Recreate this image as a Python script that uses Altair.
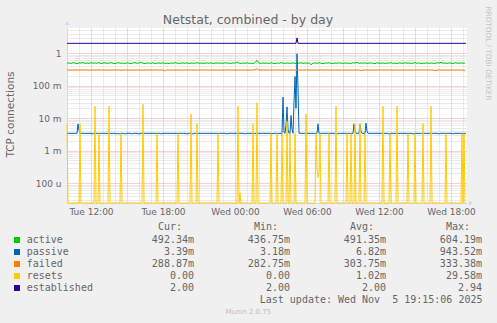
import altair as alt
import pandas as pd

TITLE = "Netstat, combined - by day"
Y_TITLE = "TCP connections"
RRD_CREDIT = "RRDTOOL / TOBI OETIKER"
MUNIN_VERSION = "Munin 2.0.75"
LAST_UPDATE = "Last update: Wed Nov  5 19:15:06 2025"

series_names = ["active", "passive", "failed", "resets", "established"]
series_colors = ["#00CC00", "#0066B3", "#FF8000", "#FFCC00", "#330099"]
col_headers = ["Cur:", "Min:", "Avg:", "Max:"]
cur_vals = ["492.34m", "3.39m", "288.87m", "0.00", "2.00"]
min_vals = ["436.75m", "3.18m", "282.75m", "0.00", "2.00"]
avg_vals = ["491.35m", "6.82m", "303.75m", "1.02m", "2.00"]
max_vals = ["604.19m", "943.52m", "333.38m", "29.58m", "2.94"]

# active / failed: 10-minute samples from Tue 10:00, in milli-connections
active_milli = [
    488, 502, 479, 510, 495, 470, 505, 492, 515, 483,
    497, 478, 508, 490, 500, 486, 520, 475, 496, 504,
    482, 493, 511, 488, 476, 499, 506, 485, 494, 480,
    503, 491, 477, 498, 512, 487, 495, 530, 489, 472,
    501, 494, 483, 509, 478, 492, 497, 486, 505, 481,
    490, 476, 499, 488, 507, 495, 482, 493, 500, 487,
    504, 479, 496, 491, 485, 510, 488, 497, 483, 492,
    499, 486, 505, 478, 494, 501, 489, 496, 484, 508,
    490, 497, 482, 503, 488, 535, 493, 480, 498, 487,
    502, 485, 494, 479, 510, 604, 491, 484, 499, 488,
    496, 481, 505, 490, 477, 498, 487, 509, 493, 482,
    500, 491, 486, 503, 478, 495, 489, 506, 484, 497,
    488, 502, 437, 494, 499, 483, 510, 490, 476, 498,
    492, 505, 486, 480, 497, 489, 503, 494, 481, 500,
    487, 496, 478, 509, 493, 525, 485, 499, 490, 504,
    483, 495, 501, 488, 474, 506, 492, 486, 498, 480,
    497, 490, 508, 484, 495, 479, 502, 491, 487, 505,
    489, 498, 482, 494, 511, 486, 500, 477, 493, 488,
    503, 485, 496, 490, 481, 507, 494, 520, 489, 498,
    484, 501, 492, 478, 506, 495, 487, 499, 492, 492.34,
]
failed_milli = [
    302, 305, 299, 304, 301, 307, 298, 303, 306, 300,
    304, 299, 302, 306, 301, 303, 310, 298, 305, 302,
    300, 304, 299, 303, 307, 301, 305, 298, 302, 306,
    303, 300, 305, 299, 304, 302, 306, 301, 298, 304,
    301, 305, 302, 299, 303, 307, 300, 304, 301, 283,
    305, 302, 299, 304, 301, 306, 300, 303, 298, 305,
    302, 300, 304, 301, 306, 299, 303, 305, 300, 302,
    304, 298, 302, 306, 301, 303, 299, 305, 302, 300,
    303, 306, 300, 302, 305, 299, 304, 301, 303, 298,
    302, 305, 300, 304, 306, 333, 301, 303, 299, 302,
    305, 300, 303, 298, 304, 302, 306, 299, 303, 301,
    304, 299, 302, 306, 300, 303, 305, 298, 302, 304,
    301, 305, 300, 303, 299, 304, 302, 306, 300, 303,
    305, 299, 302, 304, 301, 306, 300, 303, 298, 302,
    304, 301, 303, 299, 305, 302, 300, 288, 303, 301,
    306, 300, 304, 302, 299, 303, 305, 301, 302, 304,
    300, 303, 305, 299, 302, 306, 301, 304, 300, 303,
    302, 305, 299, 304, 301, 303, 306, 300, 302, 305,
    301, 304, 300, 303, 286, 302, 305, 299, 304, 301,
    303, 300, 305, 302, 298, 304, 301, 303, 299, 288.87,
]

# passive / resets / established: 5-minute samples, flat level plus listed samples
passive_level = 0.00339
passive_idx = [11, 12, 25, 49, 52, 58, 65, 72, 94, 120, 126, 160, 178, 205,
               216, 217, 219, 220, 221, 224, 225, 227, 228, 229, 230, 231,
               251, 270, 287, 288, 293, 294, 299, 300, 322, 346, 372, 386]
passive_val = [0.0066, 0.0042, 0.0032, 0.0032, 0.0032, 0.0032, 0.0032, 0.0032, 0.0032,
               0.0032, 0.0032, 0.0032, 0.0032, 0.0033,
               0.044, 0.0036, 0.006, 0.022, 0.0045, 0.012, 0.0045, 0.03, 0.19, 0.02,
               0.9435, 0.08,
               0.0066, 0.0032, 0.0066, 0.0042, 0.0066, 0.0040, 0.0070, 0.0040,
               0.0032, 0.0032, 0.0032, 0.0032]

resets_level = 0.0
resets_idx = [0, 13, 28, 32, 42, 54, 76, 90, 111, 124, 130, 151, 171, 173, 186, 190,
              204, 210, 215, 220, 223, 228, 239, 249, 250, 251, 252, 253, 262, 269,
              280, 284, 288, 293, 298, 316, 323, 330, 341, 348, 356, 364, 379,
              395, 397]
resets_val = [0.00667, 0.00667, 0.0233, 0.00333, 0.0233, 0.00333, 0.0267, 0.00333,
              0.00333, 0.0133, 0.00667, 0.00333, 0.0233, 0.00005, 0.00667, 0.02958,
              0.00333, 0.00333, 0.00333, 0.008, 0.00333, 0.00333, 0.0133, 0.00333,
              0.0003, 0.00015, 0.0002, 0.00333, 0.00333, 0.0233,
              0.00333, 0.00333, 0.00667, 0.00667, 0.00333, 0.0233, 0.00333, 0.0233,
              0.00333, 0.00333, 0.00667, 0.0233, 0.00333,
              0.00333, 0.00333]

established_level = 2.0
established_idx = [230]
established_val = [2.94]

# ---------------------------------------------------------------- tables
t10 = pd.date_range("2025-11-04 10:00", periods=len(active_milli), freq="10min")
t5 = pd.date_range("2025-11-04 10:00", periods=400, freq="5min")

FLOOR = 1e-9  # zero on a log axis -> pinned to the bottom edge


def sparse_series(level, idx, val):
    vals = [level] * len(t5)
    for i, v in zip(idx, val):
        vals[i] = v
    return [v if v > 0 else FLOOR for v in vals]


frames = {
    "active": pd.DataFrame({"t": t10, "v": [a / 1000 for a in active_milli]}),
    "passive": pd.DataFrame({"t": t5, "v": sparse_series(passive_level, passive_idx, passive_val)}),
    "failed": pd.DataFrame({"t": t10, "v": [f / 1000 for f in failed_milli]}),
    "resets": pd.DataFrame({"t": t5, "v": sparse_series(resets_level, resets_idx, resets_val)}),
    "established": pd.DataFrame({"t": t5, "v": sparse_series(established_level, established_idx, established_val)}),
}

NB = "\u00a0"


def unit_pad(s):
    return s if s.endswith("m") else s + NB


# ---------------------------------------------------------------- styling
FONT = "DejaVu Sans"
MONO = "DejaVu Sans Mono"
TXT = "#666666"
AXIS_C = "#CFD6F8"
MINOR = "#D6D6D6"
MAJOR = "#FFA0A0"

# hourly grid positions (Tue 10:00 .. Wed 19:00)
x_ticks = ([alt.DateTime(year=2025, month=11, date=4, hours=h) for h in range(10, 24)] +
           [alt.DateTime(year=2025, month=11, date=5, hours=h) for h in range(0, 20)])
y_ticks = [m * 10 ** e for e in range(-5, 1) for m in range(1, 10)]
y_ticks = [v for v in y_ticks if 2.43e-5 <= v <= 5.93]

x_axis = alt.Axis(
    title=None,
    values=x_ticks,
    labelExpr="hours(datum.value) % 6 == 0 ? timeFormat(datum.value, '%a %H:%M') : ''",
    gridColor={"condition": {"test": "hours(datum.value) % 3 == 0", "value": MAJOR}, "value": MINOR},
    gridDash=[1, 1], gridOpacity=1, gridWidth=1,
    domainColor=AXIS_C, ticks=False, labelPadding=4,
    labelFlush=False, labelOverlap=False, labelBound=False,
    labelColor=TXT, labelFont=FONT, labelFontSize=9,
)

y_axis = alt.Axis(
    values=y_ticks,
    labelExpr=("datum.value == 1 ? '1\u00a0\u00a0' : datum.value == 0.1 ? '100 m' : "
               "datum.value == 0.01 ? '10 m' : datum.value == 0.001 ? '1 m' : "
               "datum.value == 0.0001 ? '100 u' : ''"),
    gridColor={"condition": {"test": "abs(log(datum.value)/LN10 - round(log(datum.value)/LN10)) < 0.001",
                             "value": MAJOR}, "value": MINOR},
    gridDash=[1, 1], gridOpacity=1, gridWidth=1,
    domainColor=AXIS_C, ticks=False, labelPadding=6, labelOverlap=False,
    labelColor=TXT, labelFont=FONT, labelFontSize=9,
    title=Y_TITLE, titleFont=FONT, titleFontSize=10.5, titleFontWeight="normal",
    titleColor=TXT, titleX=-57, titleY=86, titleAngle=270,
    titleAlign="center", titleBaseline="middle",
)

x_enc = alt.X("t:T", axis=x_axis,
              scale=alt.Scale(domain=[alt.DateTime(year=2025, month=11, date=4, hours=10),
                                      alt.DateTime(year=2025, month=11, date=5, hours=19, minutes=20)]))
y_enc = alt.Y("v:Q", axis=y_axis,
              scale=alt.Scale(type="log", domain=[2.43e-5, 5.93], clamp=True, nice=False))

layers = []
for name, color in zip(series_names, series_colors):
    layers.append(
        alt.Chart(frames[name]).mark_line(color=color, strokeWidth=1).encode(x=x_enc, y=y_enc)
    )


def label(text, x, y, **kw):
    return alt.Chart(pd.DataFrame({"txt": [text]})).mark_text(**kw).encode(
        text="txt:N", x=alt.value(x), y=alt.value(y))


layers.append(label(TITLE, 181, -4, font=FONT, fontSize=12.5, color=TXT, align="center", baseline="alphabetic"))
layers.append(label(RRD_CREDIT, 420.5, 25.5, font=FONT, fontSize=7.3, color="#C4C4C4",
                    align="center", baseline="middle", angle=90))
layers.append(label(MUNIN_VERSION, 181.3, 284, font=FONT, fontSize=7, color="#BDBDBD",
                    align="center", baseline="middle"))
layers.append(label(LAST_UPDATE.replace(" ", NB), 415.5, 272, font=MONO, fontSize=10, color=TXT,
                    align="right", baseline="middle"))
for k, h in enumerate(col_headers):
    layers.append(label(h, 91 + 96 * k, 199, font=MONO, fontSize=10, color=TXT,
                        align="left", baseline="middle"))

# arrows at the ends of the axes
one = pd.DataFrame({"a": [0]})
layers.append(alt.Chart(one).mark_point(shape="triangle-up", filled=True, size=22, color=AXIS_C, opacity=1)
              .encode(x=alt.value(0), y=alt.value(-5)))
layers.append(alt.Chart(one).mark_point(shape="triangle-right", filled=True, size=22, color=AXIS_C, opacity=1)
              .encode(x=alt.value(404), y=alt.value(175)))

# legend rows
ROW0, ROWH = 212, 12
for r, (name, color) in enumerate(zip(series_names, series_colors)):
    layers.append(alt.Chart(one).mark_square(size=36, opacity=1, color=color)
                  .encode(x=alt.value(-50), y=alt.value(ROW0 + ROWH * r)))
    layers.append(label(name, -40.3, ROW0 + ROWH * r, font=MONO, fontSize=10, color=TXT,
                        align="left", baseline="middle"))
    for k, col in enumerate([cur_vals, min_vals, avg_vals, max_vals]):
        layers.append(label(unit_pad(col[r]), 127 + 96 * k, ROW0 + ROWH * r, font=MONO, fontSize=10,
                            color=TXT, align="right", baseline="middle"))

chart = alt.layer(*layers).properties(
    width=400, height=175,
    autosize=alt.AutoSizeParams(type="none"),
    padding={"left": 67, "top": 28, "right": 30, "bottom": 120},
    background="#F0F0F0",
).configure_view(fill="white", stroke=None)

chart.save("out.html", embed_options={"renderer": "svg", "actions": False})
